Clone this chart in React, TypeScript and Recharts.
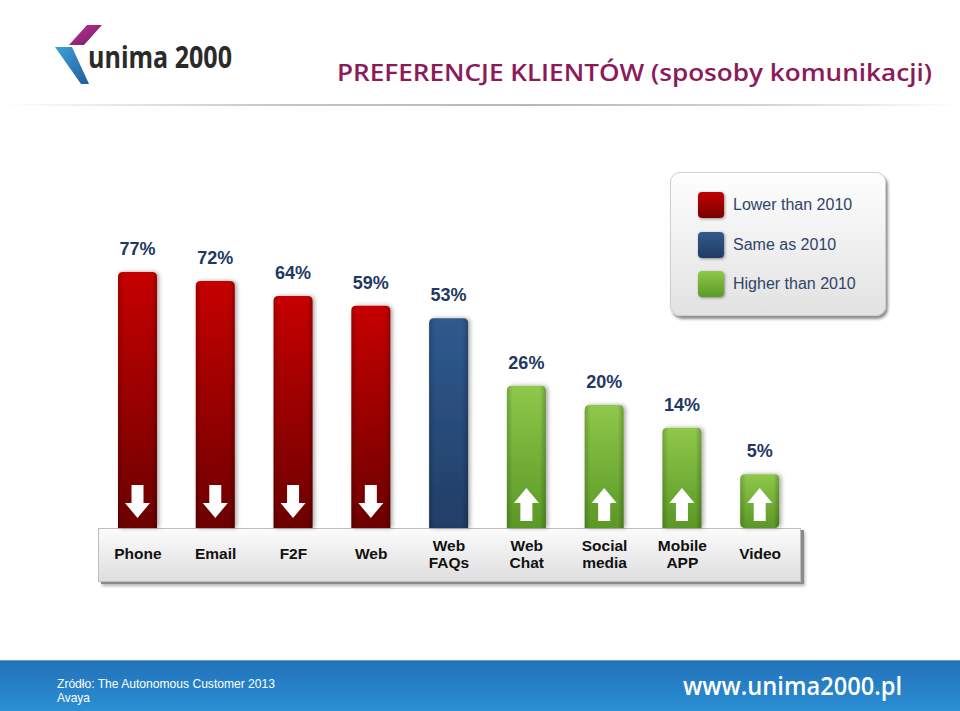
import React from "react";
import { BarChart, Bar, XAxis, YAxis, LabelList, Legend } from "recharts";

const CATEGORIES = [
  "Phone",
  "Email",
  "F2F",
  "Web",
  "Web\nFAQs",
  "Web\nChat",
  "Social\nmedia",
  "Mobile\nAPP",
  "Video",
];
const VALUES = [77, 72, 64, 59, 53, 26, 20, 14, 5];
const TRENDS = ["lower", "lower", "lower", "lower", "same", "higher", "higher", "higher", "higher"];

const LEGEND_LABELS = ["Lower than 2010", "Same as 2010", "Higher than 2010"];
const LEGEND_TRENDS = ["lower", "same", "higher"];

const SOURCE_LINES = ["Zródło: The Autonomous Customer 2013", "Avaya"];

const data = CATEGORIES.map((name, i) => ({
  name,
  value: VALUES[i],
  trend: TRENDS[i],
}));

const SWATCH: Record<string, string> = {
  lower: "linear-gradient(#c00000, #7a0000)",
  same: "linear-gradient(#33598c, #203c63)",
  higher: "linear-gradient(#8fc84a, #5b9a26)",
};

const ARIAL = "'Liberation Sans', Arial, sans-serif";

const BarShape = (props: any) => {
  const { x, y, width, height, payload } = props;
  const r = 5;
  const bottom = y + height;
  const rb = height < 60 ? 5 : 0;
  const right = x + width;
  const path = `M${x},${y + r} Q${x},${y} ${x + r},${y} L${right - r},${y} Q${right},${y} ${right},${y + r} L${right},${bottom - rb} Q${right},${bottom} ${right - rb},${bottom} L${x + rb},${bottom} Q${x},${bottom} ${x},${bottom - rb} Z`;
  const cx = x + width / 2;
  let arrow: string | null = null;
  if (payload.trend === "lower") {
    arrow = `M${cx - 6},${bottom - 43} L${cx + 6},${bottom - 43} L${cx + 6},${bottom - 25} L${cx + 12.5},${bottom - 25} L${cx},${bottom - 10} L${cx - 12.5},${bottom - 25} L${cx - 6},${bottom - 25} Z`;
  }
  if (payload.trend === "higher") {
    arrow = `M${cx},${bottom - 40} L${cx + 12.5},${bottom - 25} L${cx + 6},${bottom - 25} L${cx + 6},${bottom - 7} L${cx - 6},${bottom - 7} L${cx - 6},${bottom - 25} L${cx - 12.5},${bottom - 25} Z`;
  }
  return (
    <g>
      <path d={path} fill={`url(#g-${payload.trend})`} filter="url(#sh)" />
      <path d={path} fill="url(#bevel)" />
      {arrow && <path d={arrow} fill="#ffffff" />}
    </g>
  );
};

const ValueLabel = (props: any) => {
  const { x, y, width, value } = props;
  return (
    <text
      x={x + width / 2}
      y={y - 17}
      textAnchor="middle"
      fontFamily={ARIAL}
      fontWeight="bold"
      fontSize={18}
      fill="#1f3864"
    >
      {value}%
    </text>
  );
};

const CategoryTick = (props: any) => {
  const { x, y, payload } = props;
  const lines = String(payload.value).split("\n");
  const start = lines.length === 1 ? 31 : 23;
  return (
    <text
      x={x}
      y={y}
      textAnchor="middle"
      fontFamily={ARIAL}
      fontWeight="bold"
      fontSize={15.5}
      fill="#111"
    >
      {lines.map((l, i) => (
        <tspan key={i} x={x} dy={i === 0 ? start : 17}>
          {l}
        </tspan>
      ))}
    </text>
  );
};

const LegendBox = () => (
  <div
    style={{
      width: 216,
      height: 144,
      boxSizing: "border-box",
      borderRadius: 10,
      border: "1px solid #cfcfcf",
      background: "linear-gradient(#fefefe, #e2e2e2)",
      boxShadow: "2px 3px 3px rgba(0,0,0,0.45)",
      paddingTop: 19,
      paddingLeft: 27,
    }}
  >
    {LEGEND_LABELS.map((label, i) => (
      <div
        key={label}
        style={{
          display: "flex",
          alignItems: "center",
          height: 26,
          marginBottom: i < 2 ? 13.5 : 0,
        }}
      >
        <div
          style={{
            width: 26,
            height: 26,
            borderRadius: 4,
            background: SWATCH[LEGEND_TRENDS[i]],
            boxShadow: "1px 1px 3px rgba(0,0,0,0.4)",
          }}
        />
        <span
          style={{
            marginLeft: 9,
            fontFamily: ARIAL,
            fontSize: 16,
            color: "#2f4468",
            whiteSpace: "nowrap",
          }}
        >
          {label}
        </span>
      </div>
    ))}
  </div>
);

export default function App() {
  return (
    <div
      style={{
        position: "absolute",
        left: 0,
        top: 0,
        width: 960,
        height: 711,
        background: "#fff",
        overflow: "hidden",
      }}
    >
      {/* logo + title */}
      <svg width={960} height={110} style={{ position: "absolute", left: 0, top: 0 }}>
        <defs>
          <linearGradient id="mag" x1="0" y1="0" x2="1" y2="1">
            <stop offset="0" stopColor="#c0348f" />
            <stop offset="1" stopColor="#6e1d6a" />
          </linearGradient>
          <linearGradient id="blu" x1="0" y1="0" x2="1" y2="1">
            <stop offset="0" stopColor="#3fa3d8" />
            <stop offset="1" stopColor="#1f5d9e" />
          </linearGradient>
        </defs>
        <polygon points="87,25 102,25 84,45 69,45" fill="url(#mag)" />
        <polygon points="55,47 72,47 89,84 81,84" fill="url(#blu)" />
        <text
          x={88}
          y={68}
          fontFamily="'Open Sans', sans-serif"
          fontWeight={700}
          fontSize={31}
          fill="#2a2a2a"
          textLength={144}
          lengthAdjust="spacingAndGlyphs"
        >
          unima 2000
        </text>
        <text
          x={337}
          y={81}
          fontFamily="'Open Sans', sans-serif"
          fontWeight={600}
          fontSize={23}
          fill="#8c1a5b"
          textLength={595}
          lengthAdjust="spacingAndGlyphs"
        >
          PREFERENCJE KLIENTÓW (sposoby komunikacji)
        </text>
      </svg>
      <div
        style={{
          position: "absolute",
          left: 0,
          top: 104,
          width: 960,
          height: 2,
          background:
            "linear-gradient(to right, rgba(200,200,200,0), #c4c4c4 30%, #b8b8b8 55%, #d4d4d4 80%, rgba(220,220,220,0))",
        }}
      />

      {/* category strip */}
      <div
        style={{
          position: "absolute",
          left: 98,
          top: 528,
          width: 703,
          height: 54,
          boxSizing: "border-box",
          background: "linear-gradient(#fbfbfb, #dedede)",
          border: "1px solid #bdbdbd",
          boxShadow: "3px 2px 0 #8a8a8a, 4px 4px 3px rgba(0,0,0,0.3)",
        }}
      />

      {/* footer */}
      <div
        style={{
          position: "absolute",
          left: 0,
          top: 660,
          width: 960,
          height: 51,
          background: "linear-gradient(#2272ba, #2b8fd3)",
          borderTop: "1px solid #5aa6dc",
        }}
      />
      <svg width={960} height={711} style={{ position: "absolute", left: 0, top: 0 }}>
        <text
          x={57}
          y={688}
          fontFamily={ARIAL}
          fontSize={13}
          fill="#fff"
          textLength={218}
          lengthAdjust="spacingAndGlyphs"
        >
          {SOURCE_LINES[0]}
        </text>
        <text
          x={57}
          y={702}
          fontFamily={ARIAL}
          fontSize={13}
          fill="#fff"
          textLength={33}
          lengthAdjust="spacingAndGlyphs"
        >
          {SOURCE_LINES[1]}
        </text>
        <text
          x={683}
          y={695}
          fontFamily="'Open Sans', sans-serif"
          fontWeight={600}
          fontSize={25}
          fill="#fff"
          textLength={219}
          lengthAdjust="spacingAndGlyphs"
        >
          www.unima2000.pl
        </text>
      </svg>

      {/* chart */}
      <div style={{ position: "absolute", left: 0, top: 0 }}>
        <BarChart
          width={960}
          height={711}
          data={data}
          margin={{ top: 234, right: 161, bottom: 128, left: 99 }}
        >
          <defs>
            <linearGradient id="g-lower" x1="0" y1="0" x2="0" y2="1">
              <stop offset="0" stopColor="#c60000" />
              <stop offset="0.5" stopColor="#990000" />
              <stop offset="1" stopColor="#6c0000" />
            </linearGradient>
            <linearGradient id="g-same" x1="0" y1="0" x2="0" y2="1">
              <stop offset="0" stopColor="#2f5a8f" />
              <stop offset="1" stopColor="#213e66" />
            </linearGradient>
            <linearGradient id="g-higher" x1="0" y1="0" x2="0" y2="1">
              <stop offset="0" stopColor="#8fc84a" />
              <stop offset="1" stopColor="#5a9826" />
            </linearGradient>
            <linearGradient id="bevel" x1="0" y1="0" x2="1" y2="0">
              <stop offset="0" stopColor="#000" stopOpacity="0.18" />
              <stop offset="0.15" stopColor="#000" stopOpacity="0" />
              <stop offset="0.85" stopColor="#000" stopOpacity="0" />
              <stop offset="1" stopColor="#000" stopOpacity="0.22" />
            </linearGradient>
            <filter id="sh" x="-30%" y="-10%" width="160%" height="120%">
              <feDropShadow dx="2" dy="0" stdDeviation="2" floodColor="#000" floodOpacity="0.35" />
            </filter>
          </defs>
          <XAxis
            dataKey="name"
            interval={0}
            axisLine={false}
            tickLine={false}
            tickSize={0}
            tickMargin={0}
            height={55}
            tick={<CategoryTick />}
          />
          <YAxis hide type="number" scale="sqrt" domain={[0.25, 100]} />
          <Legend
            layout="vertical"
            align="center"
            verticalAlign="middle"
            content={<LegendBox />}
            wrapperStyle={{ position: "absolute", left: 670, top: 172, width: 216, height: 144 }}
          />
          <Bar dataKey="value" barSize={39} isAnimationActive={false} shape={<BarShape />}>
            <LabelList dataKey="value" content={<ValueLabel />} />
          </Bar>
        </BarChart>
      </div>
    </div>
  );
}
